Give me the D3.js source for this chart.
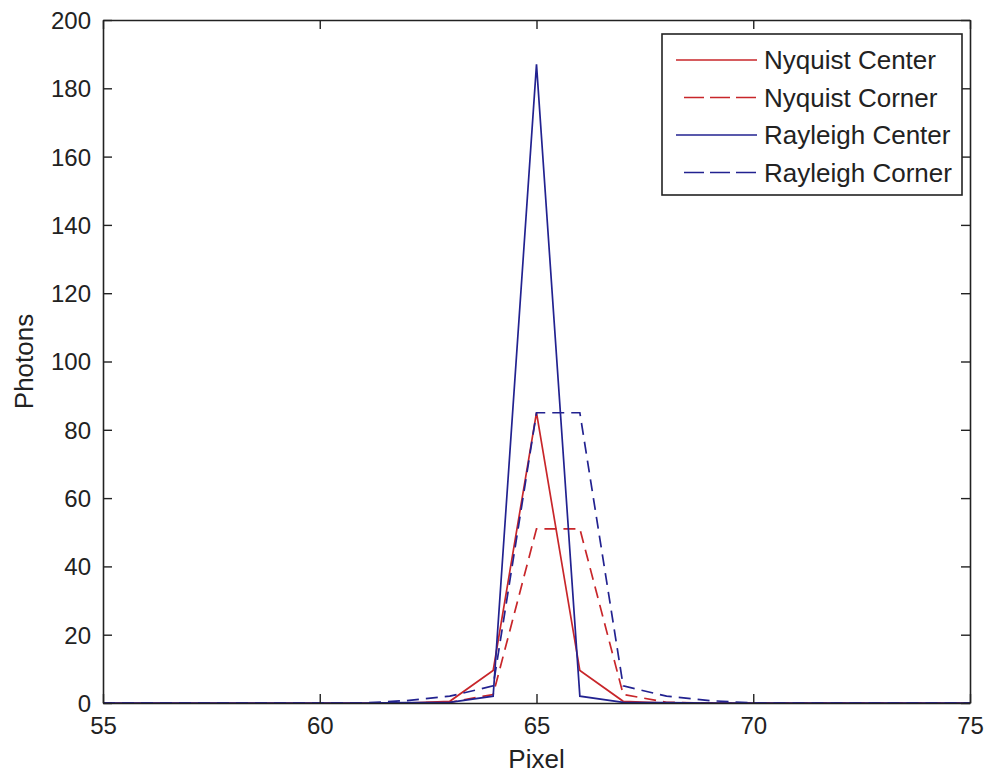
<!DOCTYPE html>
<html>
<head>
<meta charset="utf-8">
<script src="https://cdn.jsdelivr.net/npm/d3@7"></script>
<style>
  body { margin: 0; background: #fff; }
  svg text { font-family: "Liberation Sans", Arial, sans-serif; fill: #222; }
</style>
</head>
<body>
<div id="chart"></div>
<script>
// data
const pixels = d3.range(55, 76);
const nyquistCenter  = [0,0,0,0,0,0,0,0,0.5,9.5,85,9.5,0.5,0,0,0,0,0,0,0,0];
const nyquistCorner  = [0,0,0,0,0,0,0,0,0.2,2.5,51,51,2.5,0.2,0,0,0,0,0,0,0];
const rayleighCenter = [0,0,0,0,0,0,0,0.1,0.2,2,187,2,0.2,0.1,0,0,0,0,0,0,0];
const rayleighCorner = [0,0,0,0,0,0,0,0.7,2,5,85,85,5,2,0.7,0,0,0,0,0,0];
const xTicks = [55, 60, 65, 70, 75];
const yTicks = [0, 20, 40, 60, 80, 100, 120, 140, 160, 180, 200];

const series = [
  { name: "Nyquist Center",  values: nyquistCenter,  color: "#c8262a", dash: null },
  { name: "Nyquist Corner",  values: nyquistCorner,  color: "#c8262a", dash: "12,7" },
  { name: "Rayleigh Center", values: rayleighCenter, color: "#222290", dash: null },
  { name: "Rayleigh Corner", values: rayleighCorner, color: "#222290", dash: "12,7" }
];

// dimensions
const w = 985, h = 773;
const padLeft = 103, padRight = 15, padTop = 20, padBot = 70;

const svg = d3.select("#chart").append("svg")
  .attr("width", w)
  .attr("height", h);

const xScale = d3.scaleLinear().domain([55, 75]).range([padLeft, w - padRight]);
const yScale = d3.scaleLinear().domain([0, 200]).range([h - padBot, padTop]);

// lines
const line = d3.line()
  .x((d, i) => xScale(pixels[i]))
  .y(d => yScale(d));

svg.append("g").selectAll("path")
  .data(series)
  .join("path")
  .attr("d", d => line(d.values))
  .attr("fill", "none")
  .attr("stroke", d => d.color)
  .attr("stroke-width", 1.7)
  .attr("stroke-dasharray", d => d.dash);

// axes, ticks pointing inward, box all round
const tickLen = 9;
const tickFont = 24;
const labelFont = 26;
const axBottom = d3.axisBottom(xScale).tickValues(xTicks).tickSizeInner(-tickLen).tickSizeOuter(0).tickPadding(14);
const axLeft = d3.axisLeft(yScale).tickValues(yTicks).tickSizeInner(-tickLen).tickSizeOuter(0).tickPadding(12);
const axTop = d3.axisTop(xScale).tickValues(xTicks).tickSizeInner(-tickLen).tickSizeOuter(0).tickFormat("");
const axRight = d3.axisRight(yScale).tickValues(yTicks).tickSizeInner(-tickLen).tickSizeOuter(0).tickFormat("");

const gx = svg.append("g").attr("transform", `translate(0,${h - padBot})`).call(axBottom);
const gy = svg.append("g").attr("transform", `translate(${padLeft},0)`).call(axLeft);
const gt = svg.append("g").attr("transform", `translate(0,${padTop})`).call(axTop);
const gr = svg.append("g").attr("transform", `translate(${w - padRight},0)`).call(axRight);

[gx, gy, gt, gr].forEach(g => {
  g.selectAll(".domain").attr("stroke", "#222").attr("stroke-width", 1.6);
  g.selectAll(".tick line").attr("stroke", "#222").attr("stroke-width", 1.4);
  g.selectAll(".tick text").attr("font-size", tickFont).attr("fill", "#222")
    .style("font-family", "'Liberation Sans', Arial, sans-serif");
});
gy.selectAll(".tick text").attr("dy", "0.35em");

// axis labels
svg.append("text")
  .attr("x", xScale(65))
  .attr("y", h - 5)
  .attr("text-anchor", "middle")
  .attr("font-size", labelFont)
  .text("Pixel");

svg.append("text")
  .attr("transform", `translate(33,${yScale(100)}) rotate(-90)`)
  .attr("text-anchor", "middle")
  .attr("font-size", labelFont)
  .text("Photons");

// legend
const legend = svg.append("g").attr("transform", "translate(662,34)");
legend.append("rect")
  .attr("width", 300).attr("height", 161)
  .attr("fill", "#fff").attr("stroke", "#222").attr("stroke-width", 1.6);

const rows = legend.selectAll(".row")
  .data(series)
  .join("g")
  .attr("transform", (d, i) => `translate(0,${26 + i * 37.5})`);

rows.append("line")
  .attr("x1", d => d.dash ? 22 : 14).attr("x2", 95)
  .attr("stroke", d => d.color)
  .attr("stroke-width", 1.7)
  .attr("stroke-dasharray", d => d.dash ? "20,6" : null);

rows.append("text")
  .attr("x", 102)
  .attr("dy", "0.36em")
  .attr("font-size", labelFont)
  .text(d => d.name);
</script>
</body>
</html>
